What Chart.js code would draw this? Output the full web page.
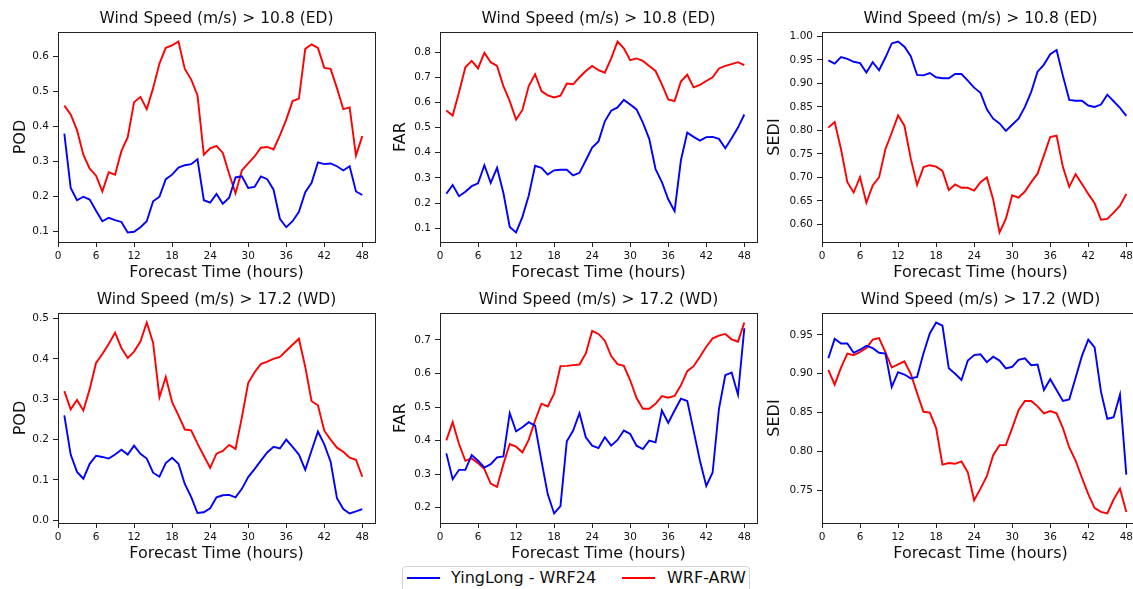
<!DOCTYPE html>
<html>
<head>
<meta charset="utf-8">
<script src="https://cdn.jsdelivr.net/npm/chart.js@4.4.1/dist/chart.umd.min.js"></script>
<style>
  body{margin:0;background:#fff;width:1133px;height:589px;overflow:hidden;position:relative;font-family:"DejaVu Sans",sans-serif;}
  .panel{position:absolute;}
  #legend{position:absolute;left:402px;top:566px;width:346px;height:32px;border:1px solid #d4d4d4;border-radius:4px;background:#fff;}
  #legend .sw{position:absolute;top:10px;width:33px;height:2px;}
  #legend .lt{position:absolute;top:1px;line-height:20px;font-size:16px;color:#111;white-space:nowrap;}
</style>
</head>
<body>
<div id="legend">
  <span class="sw" style="left:4px;background:#0000ff"></span><span class="lt" style="left:48px">YingLong - WRF24</span>
  <span class="sw" style="left:219px;background:#ff0000"></span><span class="lt" style="left:264px">WRF-ARW</span>
</div>
<script>
'use strict';

// forecast hours and x tick labels
const hours = [1,2,3,4,5,6,7,8,9,10,11,12,13,14,15,16,17,18,19,20,21,22,23,24,
               25,26,27,28,29,30,31,32,33,34,35,36,37,38,39,40,41,42,43,44,45,46,47,48];
const xTickLabels = ['0','6','12','18','24','30','36','42','48'];

const seriesNames = ['YingLong - WRF24', 'WRF-ARW'];

// Wind Speed > 10.8 (ED)
const podEdYL  = [0.38,0.225,0.19,0.2,0.192,0.16,0.13,0.14,0.133,0.128,0.098,0.1,0.113,0.13,0.187,0.2,0.25,0.263,0.283,0.29,0.293,0.307,0.19,0.183,
                  0.208,0.18,0.197,0.255,0.258,0.225,0.228,0.258,0.25,0.22,0.137,0.113,0.13,0.157,0.213,0.24,0.298,0.293,0.295,0.287,0.275,0.287,0.215,0.205];
const podEdWRF = [0.46,0.435,0.39,0.32,0.28,0.26,0.215,0.27,0.263,0.33,0.37,0.47,0.485,0.45,0.51,0.58,0.625,0.632,0.643,0.565,0.535,0.49,0.32,0.338,
                  0.345,0.325,0.265,0.21,0.275,0.295,0.315,0.34,0.342,0.335,0.375,0.42,0.473,0.48,0.622,0.635,0.625,0.568,0.565,0.51,0.45,0.455,0.318,0.373];
const farEdYL  = [0.237,0.272,0.227,0.245,0.267,0.278,0.35,0.28,0.34,0.24,0.105,0.083,0.145,0.23,0.348,0.34,0.313,0.33,0.332,0.332,0.31,0.32,0.37,0.42,
                  0.445,0.525,0.567,0.58,0.61,0.592,0.572,0.52,0.455,0.335,0.283,0.215,0.168,0.37,0.48,0.463,0.448,0.462,0.463,0.455,0.418,0.458,0.5,0.552];
const farEdWRF = [0.568,0.548,0.64,0.74,0.765,0.735,0.797,0.76,0.745,0.665,0.605,0.532,0.57,0.665,0.712,0.645,0.628,0.62,0.627,0.675,0.672,0.7,0.725,0.745,
                  0.728,0.718,0.775,0.842,0.815,0.768,0.775,0.765,0.745,0.725,0.672,0.612,0.605,0.683,0.71,0.66,0.67,0.685,0.7,0.735,0.745,0.752,0.76,0.748];
const sediEdYL  = [0.949,0.942,0.956,0.952,0.946,0.943,0.923,0.945,0.928,0.955,0.985,0.989,0.978,0.958,0.918,0.917,0.922,0.913,0.911,0.911,0.92,0.92,0.906,0.891,
                   0.88,0.845,0.825,0.815,0.799,0.812,0.825,0.85,0.882,0.925,0.94,0.962,0.971,0.916,0.865,0.863,0.863,0.853,0.85,0.855,0.876,0.862,0.848,0.831];
const sediEdWRF = [0.806,0.818,0.76,0.69,0.668,0.701,0.646,0.683,0.7,0.76,0.795,0.832,0.81,0.74,0.684,0.722,0.726,0.723,0.714,0.673,0.685,0.678,0.678,0.672,
                   0.69,0.7,0.653,0.583,0.612,0.662,0.657,0.67,0.69,0.708,0.747,0.786,0.789,0.722,0.68,0.707,0.686,0.665,0.645,0.61,0.612,0.625,0.64,0.665];

// Wind Speed > 17.2 (WD)
const podWdYL  = [0.26,0.163,0.12,0.103,0.14,0.16,0.157,0.153,0.163,0.175,0.163,0.185,0.165,0.153,0.118,0.108,0.142,0.155,0.14,0.09,0.058,0.018,0.02,0.03,
                  0.057,0.062,0.063,0.057,0.078,0.107,0.127,0.148,0.168,0.182,0.178,0.2,0.182,0.163,0.125,0.173,0.22,0.188,0.145,0.055,0.028,0.017,0.022,0.028];
const podWdWRF = [0.32,0.275,0.298,0.272,0.325,0.39,0.412,0.437,0.465,0.427,0.402,0.418,0.443,0.49,0.44,0.305,0.355,0.293,0.26,0.225,0.223,0.19,0.16,0.13,
                  0.165,0.172,0.187,0.177,0.255,0.34,0.367,0.387,0.393,0.4,0.405,0.42,0.435,0.45,0.38,0.295,0.285,0.222,0.2,0.18,0.17,0.155,0.15,0.108];
const farWdYL  = [0.362,0.285,0.313,0.313,0.357,0.34,0.32,0.33,0.35,0.353,0.482,0.428,0.44,0.455,0.445,0.34,0.24,0.183,0.205,0.398,0.43,0.482,0.41,0.385,
                  0.378,0.41,0.385,0.402,0.43,0.42,0.385,0.375,0.4,0.395,0.49,0.453,0.49,0.525,0.518,0.43,0.34,0.265,0.305,0.495,0.595,0.603,0.537,0.735];
const farWdWRF = [0.401,0.455,0.39,0.34,0.347,0.333,0.315,0.272,0.262,0.33,0.39,0.382,0.365,0.403,0.46,0.51,0.502,0.54,0.622,0.623,0.625,0.627,0.66,0.727,
                  0.718,0.698,0.652,0.628,0.623,0.58,0.527,0.495,0.495,0.51,0.533,0.528,0.533,0.565,0.607,0.622,0.65,0.68,0.705,0.713,0.718,0.702,0.695,0.752];
const sediWdYL  = [0.92,0.945,0.939,0.939,0.927,0.931,0.936,0.933,0.927,0.926,0.883,0.902,0.899,0.894,0.896,0.926,0.952,0.966,0.962,0.907,0.9,0.892,0.917,0.924,
                   0.925,0.915,0.922,0.917,0.907,0.909,0.918,0.92,0.911,0.912,0.879,0.893,0.879,0.865,0.867,0.895,0.923,0.944,0.934,0.877,0.842,0.844,0.873,0.77];
const sediWdWRF = [0.905,0.886,0.908,0.926,0.924,0.928,0.933,0.944,0.946,0.928,0.908,0.912,0.916,0.9,0.875,0.851,0.85,0.83,0.783,0.785,0.784,0.787,0.773,0.737,
                   0.752,0.768,0.795,0.808,0.808,0.83,0.853,0.865,0.865,0.858,0.849,0.852,0.849,0.83,0.805,0.788,0.766,0.745,0.727,0.722,0.72,0.738,0.752,0.722];

// y tick labels per panel
const podEdTicks  = ['0.1','0.2','0.3','0.4','0.5','0.6'];
const farEdTicks  = ['0.1','0.2','0.3','0.4','0.5','0.6','0.7','0.8'];
const sediEdTicks = ['0.60','0.65','0.70','0.75','0.80','0.85','0.90','0.95','1.00'];
const podWdTicks  = ['0.0','0.1','0.2','0.3','0.4','0.5'];
const farWdTicks  = ['0.2','0.3','0.4','0.5','0.6','0.7'];
const sediWdTicks = ['0.75','0.80','0.85','0.90','0.95'];

const titleEd = 'Wind Speed (m/s) > 10.8 (ED)';
const titleWd = 'Wind Speed (m/s) > 17.2 (WD)';

// layout: canvas left/top and y-axis width (plot left = left + yw)
const panels = [
  {title:titleEd, ylab:'POD',  a:podEdYL,  b:podEdWRF,  ticks:podEdTicks,  left:9,   top:9,   yw:49},
  {title:titleEd, ylab:'FAR',  a:farEdYL,  b:farEdWRF,  ticks:farEdTicks,  left:389, top:9,   yw:51},
  {title:titleEd, ylab:'SEDI', a:sediEdYL, b:sediEdWRF, ticks:sediEdTicks, left:763, top:9,   yw:59},
  {title:titleWd, ylab:'POD',  a:podWdYL,  b:podWdWRF,  ticks:podWdTicks,  left:9,   top:290, yw:49},
  {title:titleWd, ylab:'FAR',  a:farWdYL,  b:farWdWRF,  ticks:farWdTicks,  left:389, top:290, yw:51},
  {title:titleWd, ylab:'SEDI', a:sediWdYL, b:sediWdWRF, ticks:sediWdTicks, left:763, top:290, yw:59}
];

const PLOT_W = 317, PLOT_H = 210, TITLE_H = 23, XAX_H = 44, PAD_R = 10;
const INK = '#111';

// box around the plot area + title centred over it (matplotlib style)
const framePlugin = {
  id: 'frame',
  afterDraw(chart, args, opts){
    const {ctx, chartArea: a} = chart;
    ctx.save();
    ctx.strokeStyle = '#222';
    ctx.lineWidth = 1;
    ctx.strokeRect(Math.round(a.left) + 0.5, Math.round(a.top) + 0.5,
                   Math.round(a.right - a.left), Math.round(a.bottom - a.top));
    if (opts.text) {
      ctx.fillStyle = INK;
      ctx.font = '15.5px "DejaVu Sans"';
      ctx.textAlign = 'center';
      ctx.textBaseline = 'middle';
      ctx.fillText(opts.text, (a.left + a.right) / 2, a.top - 13.5);
    }
    ctx.restore();
  }
};

const pts = arr => hours.map((h, i) => ({x: h, y: arr[i]}));

panels.forEach((p, k) => {
  const wrap = document.createElement('div');
  wrap.className = 'panel';
  wrap.style.left = p.left + 'px';
  wrap.style.top = p.top + 'px';
  wrap.style.width = (p.yw + PLOT_W + PAD_R) + 'px';
  wrap.style.height = (TITLE_H + PLOT_H + XAX_H) + 'px';
  const cv = document.createElement('canvas');
  cv.id = 'c' + k;
  wrap.appendChild(cv);
  document.body.appendChild(wrap);

  const all = p.a.concat(p.b);
  const lo = Math.min(...all), hi = Math.max(...all);
  const m = (hi - lo) * 0.05;
  const yTickVals = p.ticks.map(Number);
  const dec = p.ticks[0].split('.')[1].length;

  new Chart(cv, {
    type: 'line',
    data: {
      datasets: [
        {label: seriesNames[0], data: pts(p.a), borderColor: '#0000ff', borderWidth: 1.9, pointRadius: 0, tension: 0},
        {label: seriesNames[1], data: pts(p.b), borderColor: '#ff0000', borderWidth: 1.9, pointRadius: 0, tension: 0}
      ]
    },
    options: {
      responsive: true,
      maintainAspectRatio: false,
      animation: false,
      devicePixelRatio: 1,
      layout: {padding: {left: 0, top: TITLE_H, bottom: 0, right: PAD_R}},
      plugins: {
        legend: {display: false},
        tooltip: {enabled: false},
        title: {display: false},
        frame: {text: p.title}
      },
      scales: {
        x: {
          type: 'linear', min: 0, max: 50,
          afterBuildTicks: s => { s.ticks = xTickLabels.map(v => ({value: Number(v)})); },
          afterFit: s => { s.height = XAX_H; },
          ticks: {color: INK, padding: 3, maxRotation: 0, autoSkip: false,
                  font: {family: 'DejaVu Sans', size: 10.5},
                  callback: v => String(v)},
          grid: {display: true, drawOnChartArea: false, drawTicks: true, tickLength: 5, color: '#222'},
          border: {display: false},
          title: {display: true, text: 'Forecast Time (hours)', color: INK,
                  font: {family: 'DejaVu Sans', size: 16, lineHeight: 1.2},
                  padding: {top: 0, bottom: 4}}
        },
        y: {
          type: 'linear', min: lo - m, max: hi + m,
          afterBuildTicks: s => { s.ticks = yTickVals.map(v => ({value: v})); },
          afterFit: s => { s.width = p.yw; },
          ticks: {color: INK, padding: 4, autoSkip: false,
                  font: {family: 'DejaVu Sans', size: 10.5},
                  callback: v => Number(v).toFixed(dec)},
          grid: {display: true, drawOnChartArea: false, drawTicks: true, tickLength: 5, color: '#222'},
          border: {display: false},
          title: {display: true, text: p.ylab, color: INK,
                  font: {family: 'DejaVu Sans', size: 16, lineHeight: 1.2},
                  padding: {top: 2, bottom: 0}}
        }
      }
    },
    plugins: [framePlugin]
  });
});
</script>
</body>
</html>
